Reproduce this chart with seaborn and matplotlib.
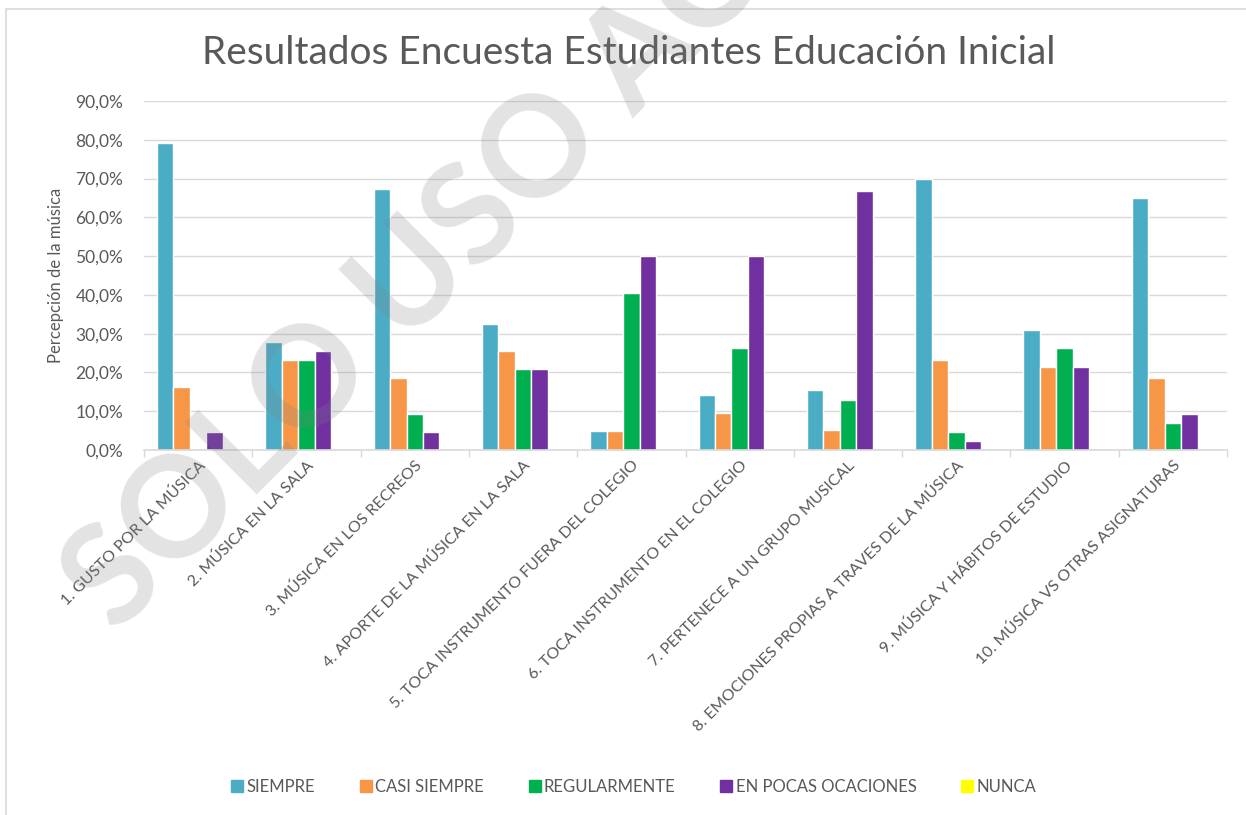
import pandas as pd
import matplotlib
matplotlib.use("Agg")
import matplotlib.pyplot as plt
import seaborn as sns
from matplotlib.lines import Line2D
from matplotlib.ticker import FuncFormatter, MultipleLocator, FixedLocator

categorias = [
    "1. GUSTO POR LA MÚSICA",
    "2. MÚSICA EN LA SALA",
    "3. MÚSICA EN LOS RECREOS",
    "4. APORTE DE LA MÚSICA EN LA SALA",
    "5. TOCA INSTRUMENTO FUERA DEL COLEGIO",
    "6. TOCA INSTRUMENTO EN EL COLEGIO",
    "7. PERTENECE A UN GRUPO MUSICAL",
    "8. EMOCIONES PROPIAS A TRAVES DE LA MÚSICA",
    "9. MÚSICA Y HÁBITOS DE ESTUDIO",
    "10. MÚSICA VS OTRAS ASIGNATURAS",
]
respuestas = ["SIEMPRE", "CASI SIEMPRE", "REGULARMENTE", "EN POCAS OCACIONES", "NUNCA"]
colores = ["#4BACC6", "#F79646", "#00B050", "#7030A0", "#FFFF00"]

siempre = [79.1, 27.9, 67.4, 32.6, 4.8, 14.3, 15.4, 69.8, 31.0, 65.1]
casi_siempre = [16.3, 23.3, 18.6, 25.6, 4.8, 9.5, 5.1, 23.3, 21.4, 18.6]
regularmente = [0.0, 23.3, 9.3, 20.9, 40.5, 26.2, 12.8, 4.7, 26.2, 7.0]
pocas_ocaciones = [4.7, 25.6, 4.7, 20.9, 50.0, 50.0, 66.7, 2.3, 21.4, 9.3]
nunca = [0.0] * 10

series = [siempre, casi_siempre, regularmente, pocas_ocaciones, nunca]
filas = []
for resp, valores in zip(respuestas, series):
    for cat, v in zip(categorias, valores):
        filas.append({"pregunta": cat, "respuesta": resp, "valor": v})
df = pd.DataFrame(filas)

sns.set_style("white")
plt.rcParams["font.family"] = ["Lato", "DejaVu Sans"]
gris = "#595959"

fig = plt.figure(figsize=(12.46, 8.15), dpi=100)
ax = fig.add_axes([0.1156, 0.4479, 0.8692, 0.4281])

sns.barplot(
    data=df, x="pregunta", y="valor", hue="respuesta",
    order=categorias, hue_order=respuestas, palette=colores, saturation=1,
    width=0.76, edgecolor="white", linewidth=1, ax=ax, legend=False,
)

ax.set_ylim(0, 90)
ax.set_xlim(-0.5, len(categorias) - 0.5)
ax.yaxis.set_major_locator(MultipleLocator(10))
ax.yaxis.set_major_formatter(FuncFormatter(lambda v, p: f"{v:.1f}%".replace(".", ",")))
ax.grid(axis="y", color="#D9D9D9", linewidth=1)
ax.set_axisbelow(True)
for s in ["top", "right", "left"]:
    ax.spines[s].set_visible(False)
ax.spines["bottom"].set_color("#D9D9D9")
ax.spines["bottom"].set_linewidth(1.2)

ax.xaxis.set_minor_locator(FixedLocator([i - 0.5 for i in range(len(categorias) + 1)]))
ax.tick_params(axis="x", which="minor", length=5, color="#D9D9D9", width=1, bottom=True)
ax.tick_params(axis="x", which="major", length=0, pad=6)
ax.tick_params(axis="y", length=0, pad=15, labelsize=12.5, labelcolor=gris)
ax.set_xticks(range(len(categorias)))
ax.set_xticklabels(categorias, rotation=45, ha="right", rotation_mode="anchor",
                   fontsize=11.5, color=gris)

ax.set_xlabel("")
ax.set_ylabel("Percepción de la música", fontsize=12, color=gris, labelpad=8)

fig.text(0.505, 0.935, "Resultados Encuesta Estudiantes Educación Inicial",
         ha="center", va="center", fontsize=28, color=gris)

handles = [Line2D([0], [0], marker="s", linestyle="", markersize=8,
                  markerfacecolor=c, markeredgecolor=c) for c in colores]
fig.legend(handles, respuestas, loc="center", bbox_to_anchor=(0.508, 0.034),
           ncol=5, frameon=False, fontsize=12, labelcolor=gris,
           handletextpad=0.1, columnspacing=2.6, handlelength=0.9)

# borde del grafico
fig.add_artist(Line2D([6 / 1246, 6 / 1246], [0, 1 - 9 / 815], color="#D9D9D9", lw=1.2))
fig.add_artist(Line2D([6 / 1246, 1], [1 - 9 / 815, 1 - 9 / 815], color="#D9D9D9", lw=1.2))

# marca de agua
fig.text(0.093, 0.221, "SOLO USO ACADÉMICO", rotation=45, rotation_mode="anchor",
         ha="left", va="baseline", fontsize=100, fontweight="bold",
         color="#808080", alpha=0.22, zorder=10)

fig.savefig("out.png", dpi=100)
